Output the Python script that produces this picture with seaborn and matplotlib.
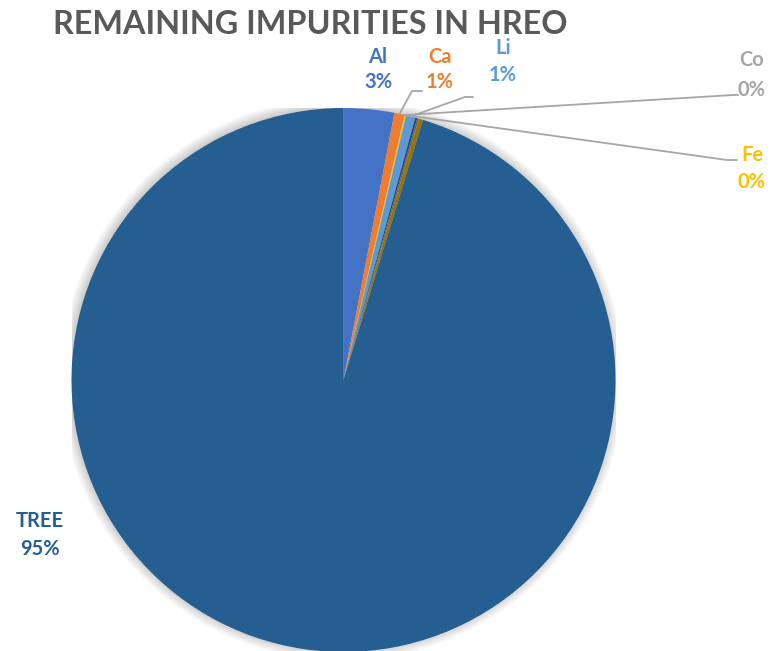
import numpy as np
import seaborn as sns
import matplotlib.pyplot as plt
from matplotlib.patches import Circle

# data
names = ['Al', 'Ca', 'Co', 'Fe', 'Li', 'X1', 'X2', 'X3', 'TREE']
values = [3.0, 0.6, 0.02, 0.08, 0.55, 0.12, 0.1, 0.25, 95.28]
colors = ['#4472C4', '#ED7D31', '#A5A5A5', '#FFC000', '#5B9BD5',
          '#264478', '#636363', '#997300', '#255E91']
shown = ['Al', 'Ca', 'Co', 'Fe', 'Li', 'TREE']

sns.set_theme(style='white')
plt.rcParams['font.family'] = ['Lato', 'DejaVu Sans']

fig = plt.figure(figsize=(7.8, 6.51), dpi=100)
W, H = 780, 651
cx, cy, R = 343.5, 380, 272
ax = fig.add_axes([(cx - R) / W, (H - cy - R) / H, 2 * R / W, 2 * R / H])

# soft shadow
for k in range(10):
    ax.add_patch(Circle((-0.004, 0.004), 1.0 + 0.004 * k, color='#000000',
                        alpha=0.018, lw=0, zorder=0))

wedges, _ = ax.pie(values, colors=colors, startangle=90, counterclock=False,
                   radius=1, wedgeprops=dict(linewidth=0))
for w in wedges:
    w.set_zorder(2)
ax.set_xlim(-1, 1)
ax.set_ylim(-1, 1)
ax.axis('off')

total = sum(values)

def px(x, y):
    return (x - cx) / R, (cy - y) / R

# label positions (pixels): x, name y, pct y
label_pos = {
    'Al': (378, 57, 82),
    'Ca': (440, 57, 82),
    'Li': (503, 48, 75),
    'Co': (752, 60, 90),
    'Fe': (752, 155, 182),
    'TREE': (40, 521, 549),
}
# leader elbows (pixels): elbow, end
leaders = {
    'Ca': ((412, 91), (422, 91)),
    'Li': ((465, 97), (473, 97)),
    'Co': ((733, 95), (738, 95)),
    'Fe': ((727, 160), (737, 160)),
}

for name, w, v, c in zip(names, wedges, values, colors):
    if name not in shown:
        continue
    lx, ny, py = label_pos[name]
    pct = f'{round(v / total * 100):.0f}%'
    x1, y1 = px(lx, ny)
    x2, y2 = px(lx, py)
    ax.text(x1, y1, name, color=c, fontsize=14.5, fontweight='bold',
            ha='center', va='center', clip_on=False)
    ax.text(x2, y2, pct, color=c, fontsize=14.5, fontweight='bold',
            ha='center', va='center', clip_on=False)
    if name in leaders:
        mid = np.deg2rad((w.theta1 + w.theta2) / 2)
        sx, sy = np.cos(mid), np.sin(mid)
        (ex, ey), (fx, fy) = leaders[name]
        e = px(ex, ey)
        f = px(fx, fy)
        ax.plot([sx, e[0], f[0]], [sy, e[1], f[1]], color='#A6A6A6', lw=1.3,
                clip_on=False, zorder=3)

fig.text(310 / W, 1 - 25 / H, 'REMAINING IMPURITIES IN HREO', color='#595959',
         fontsize=23.3, fontweight='bold', ha='center', va='center')

fig.savefig('out.png', dpi=100)
